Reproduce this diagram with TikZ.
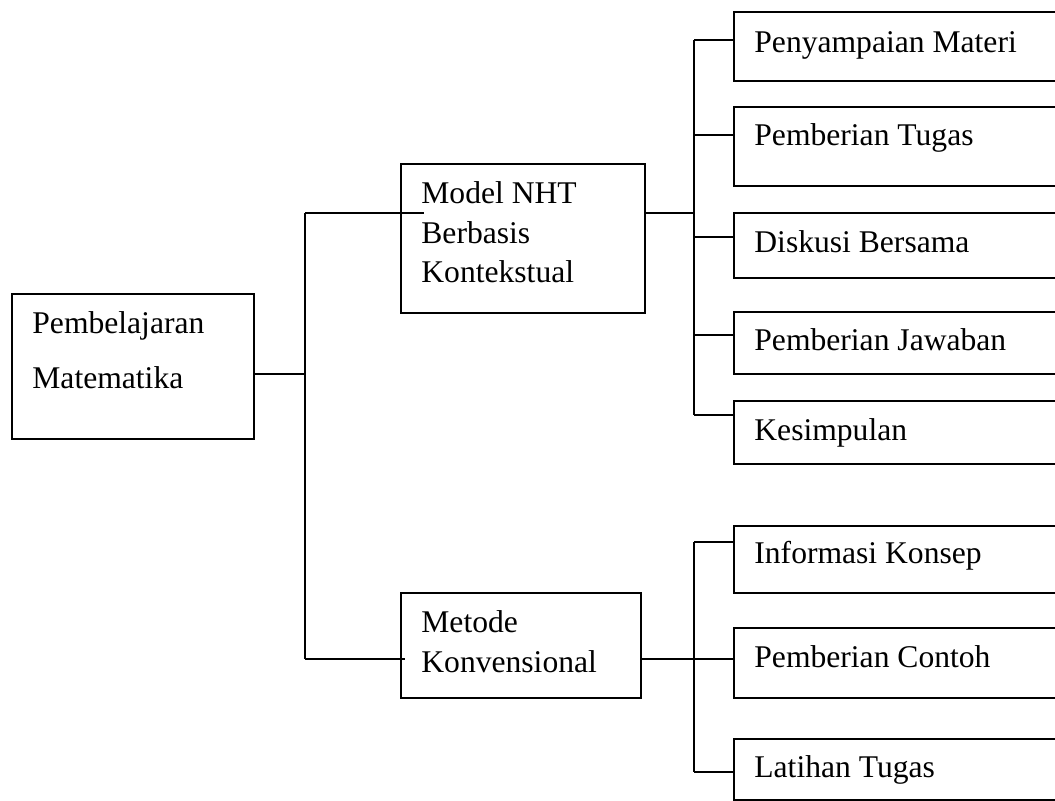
\documentclass[tikz,border=0pt]{standalone}
\usepackage{fontspec}
\setmainfont{Liberation Serif}
\newlength\pxu
\setlength\pxu{0.5pt}
\tikzset{
  box/.style={draw, line width=0.9pt, inner sep=0pt, anchor=north west},
  txt/.style={anchor=base west, inner sep=0pt, font=\fontsize{15.8pt}{19pt}\selectfont},
  conn/.style={line width=0.9pt}
}
\begin{document}
\begin{tikzpicture}[x=0.5pt, y=-0.5pt]
\path[use as bounding box, clip] (0,0) rectangle (1055,800);
% boxes
\node[box, minimum width=242\pxu, minimum height=145\pxu] (root) at (11,293) {};
\node[box, minimum width=244\pxu, minimum height=149\pxu] (nht) at (400,163) {};
\node[box, minimum width=240\pxu, minimum height=105\pxu] (met) at (400,592) {};
\node[box, minimum width=340\pxu, minimum height=69\pxu] (pm) at (733,11) {};
\node[box, minimum width=340\pxu, minimum height=79\pxu] (pt) at (733,106) {};
\node[box, minimum width=340\pxu, minimum height=65\pxu] (db) at (733,212) {};
\node[box, minimum width=340\pxu, minimum height=62\pxu] (pj) at (733,311) {};
\node[box, minimum width=340\pxu, minimum height=63\pxu] (ks) at (733,400) {};
\node[box, minimum width=340\pxu, minimum height=67\pxu] (ik) at (733,525) {};
\node[box, minimum width=340\pxu, minimum height=70\pxu] (pc) at (733,627) {};
\node[box, minimum width=340\pxu, minimum height=61\pxu] (lt) at (733,738) {};
% texts
\node[txt] (roott1) at (32,333) {Pembelajaran};
\node[txt] (roott2) at (32,388) {Matematika};
\node[txt] (nhtt1) at (421,203) {Model NHT};
\node[txt] (nhtt2) at (421,243) {Berbasis};
\node[txt] (nhtt3) at (421,282) {Kontekstual};
\node[txt] (mett1) at (421,632) {Metode};
\node[txt] (mett2) at (421,672) {Konvensional};
\node[txt] (pmt) at (754,52) {Penyampaian Materi};
\node[txt] (ptt) at (754,145) {Pemberian Tugas};
\node[txt] (dbt) at (754,252) {Diskusi Bersama};
\node[txt] (pjt) at (754,350) {Pemberian Jawaban};
\node[txt] (kst) at (754,440) {Kesimpulan};
\node[txt] (ikt) at (754,563) {Informasi Konsep};
\node[txt] (pct) at (754,667) {Pemberian Contoh};
\node[txt] (ltt) at (754,777) {Latihan Tugas};
% trunk
\coordinate (rj) at (305,374);
\coordinate (t1) at (305,213);
\coordinate (t2) at (305,659);
\coordinate (nhtin) at (424,213);
\coordinate (metin) at (405,659);
\draw[conn] (root.east |- rj) -- (rj);
\draw[conn] (t1) -- (t2);
\draw[conn] (t1) -- (nhtin);
\draw[conn] (t2) -- (metin);
% upper bus
\coordinate (u0) at (694,213);
\coordinate (u1) at (694,40);
\coordinate (u2) at (694,135);
\coordinate (u3) at (694,237);
\coordinate (u4) at (694,335);
\coordinate (u5) at (694,415);
\draw[conn] (nht.east |- u0) -- (u0);
\draw[conn] (u1) -- (u5);
\draw[conn] (u1) -- (u1 -| pm.west);
\draw[conn] (u2) -- (u2 -| pt.west);
\draw[conn] (u3) -- (u3 -| db.west);
\draw[conn] (u4) -- (u4 -| pj.west);
\draw[conn] (u5) -- (u5 -| ks.west);
% lower bus
\coordinate (l0) at (694,659);
\coordinate (l1) at (694,542);
\coordinate (l2) at (694,659);
\coordinate (l3) at (694,772);
\draw[conn] (met.east |- l0) -- (l0);
\draw[conn] (l1) -- (l3);
\draw[conn] (l1) -- (l1 -| ik.west);
\draw[conn] (l2) -- (l2 -| pc.west);
\draw[conn] (l3) -- (l3 -| lt.west);
\end{tikzpicture}
\end{document}
